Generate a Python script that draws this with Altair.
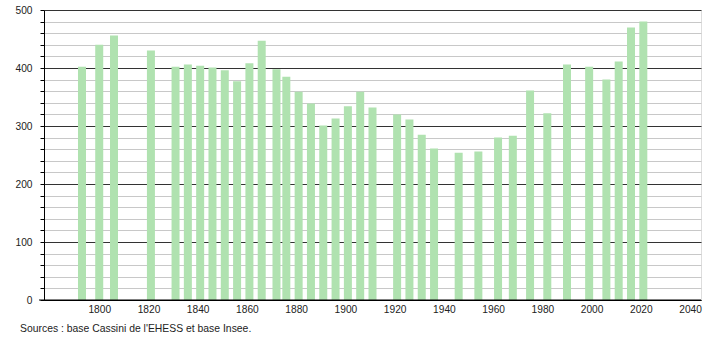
import altair as alt
import pandas as pd

years = [1793, 1800, 1806, 1821, 1831, 1836, 1841, 1846, 1851, 1856, 1861, 1866,
         1872, 1876, 1881, 1886, 1891, 1896, 1901, 1906, 1911, 1921, 1926, 1931,
         1936, 1946, 1954, 1962, 1968, 1975, 1982, 1990, 1999, 2006, 2011, 2016, 2021]
population = [402, 440, 456, 430, 402, 406, 404, 401, 396, 377, 408, 447,
              398, 385, 359, 339, 301, 313, 334, 359, 332, 320, 311, 285,
              261, 254, 256, 280, 283, 361, 322, 406, 402, 380, 411, 470, 480]
x_ticks = list(range(1800, 2041, 20))
y_ticks = list(range(0, 501, 20))
source = "Sources : base Cassini de l'EHESS et base Insee."

df = pd.DataFrame({"year": years, "pop": population})

FONT = "Liberation Sans"

bars = alt.Chart(df).mark_bar(size=8, color="#b0e2b0").encode(
    x=alt.X("year:Q",
            scale=alt.Scale(domain=[1779.6, 2042.4], nice=False, zero=False),
            axis=alt.Axis(values=x_ticks, title=None, grid=False, ticks=False,
                          labelPadding=4, labelFontSize=10.2, labelColor="#222",
                          labelFont=FONT, domainColor="#000", format="d",
                          labelFlush=False)),
    y=alt.Y("pop:Q",
            scale=alt.Scale(domain=[0, 500], nice=False),
            axis=alt.Axis(values=y_ticks, title=None, grid=True,
                          gridColor={"condition": {"test": "datum.value % 100 === 0", "value": "#333333"},
                                     "value": "#c8c8c8"},
                          gridWidth=1,
                          tickSize=4, tickColor="#000", domainColor="#000",
                          labelExpr="datum.value % 100 === 0 ? datum.label : ''",
                          labelPadding=8, labelFontSize=10.2, labelColor="#222",
                          labelFont=FONT)),
)

xline = alt.Chart(pd.DataFrame({"a": [0]})).mark_rule(color="#000", strokeWidth=1).encode(
    x=alt.value(-5), x2=alt.value(657), y=alt.value(290)
)

src = alt.Chart(pd.DataFrame({"t": [source]})).mark_text(
    align="left", baseline="middle", fontSize=10.4, font=FONT, color="#222"
).encode(text="t:N", x=alt.value(-24), y=alt.value(319))

chart = alt.layer(bars, xline, src).properties(
    width=657, height=290,
    autosize=alt.AutoSizeParams(type="none"),
    padding={"left": 44, "top": 10, "right": 9, "bottom": 40},
).configure_view(stroke=None).configure(background="white")

chart.save("out.html", embed_options={"renderer": "svg", "actions": False})
